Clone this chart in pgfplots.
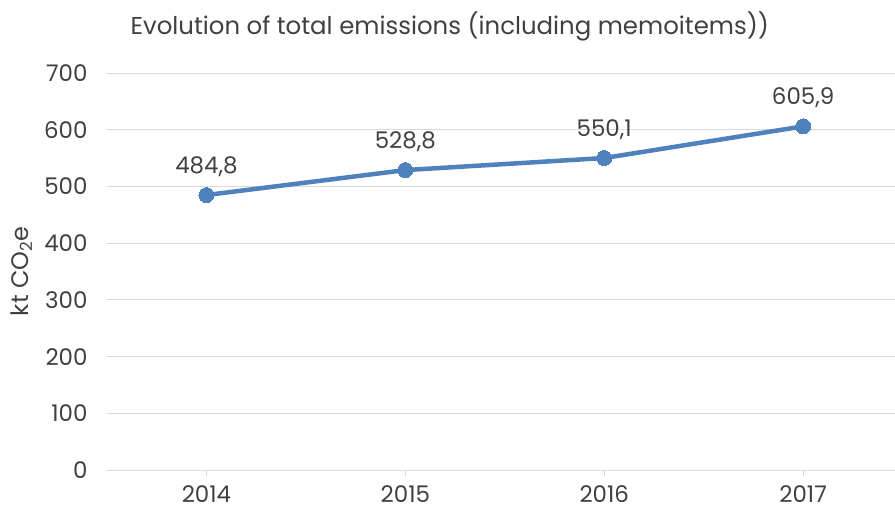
\documentclass[border=0pt]{standalone}
\usepackage{pgfplots}
\pgfplotsset{compat=1.18}
\usepackage{fontspec}
\setmainfont{Poppins}
\definecolor{series}{RGB}{79,129,189}
\definecolor{txt}{RGB}{64,64,64}
\definecolor{gridgray}{RGB}{217,217,217}
\begin{document}
\begin{tikzpicture}
\path[use as bounding box] (-107bp,-40bp) rectangle (788bp,470bp);
\begin{axis}[
  at={(0,0)}, anchor=south west,
  scale only axis, width=788bp, height=397bp,
  xmin=-0.5, xmax=3.462, ymin=0, ymax=700,
  xtick={0,1,2,3}, xticklabels={2014,2015,2016,2017},
  ytick={0,100,...,700},
  axis line style={draw=none},
  ymajorgrids, xmajorgrids=false,
  grid style={draw=gridgray, line width=1bp},
  major tick length=0pt,
  tick style={draw=none},
  xticklabel style={font=\fontsize{23}{26}\selectfont, text=txt, yshift=-12bp},
  yticklabel style={font=\fontsize{23}{26}\selectfont, text=txt, xshift=-16bp},
  /pgf/number format/assume math mode=true,
  every axis y label/.style={at={(axis description cs:0,0.5)}, xshift=-85bp, rotate=90, anchor=center, font=\fontsize{24}{28}\selectfont, text=txt},
  ylabel={kt CO\textsubscript{2}e},
  every axis title/.style={at={(axis description cs:0.435,1)}, yshift=47bp, anchor=center, font=\fontsize{24.5}{28}\selectfont, text=txt},
  title={Evolution of total emissions (including memoitems))},
  nodes near coords,
  nodes near coords style={font=\fontsize{23}{26}\selectfont, text=txt, yshift=15bp,
    /pgf/number format/.cd, fixed, fixed zerofill, precision=1, use comma, assume math mode=true},
  clip=false,
]
\addplot[color=series, line width=4.5bp, mark=*, mark size=7.5bp, mark options={fill=series, draw=series, line width=0pt}] coordinates {(0,484.8) (1,528.8) (2,550.1) (3,605.9)};
\end{axis}
\foreach \x in {99,298,497,696} {\draw[gridgray, line width=1bp] (\x bp,0) -- (\x bp,-6bp);}
\end{tikzpicture}
\end{document}
